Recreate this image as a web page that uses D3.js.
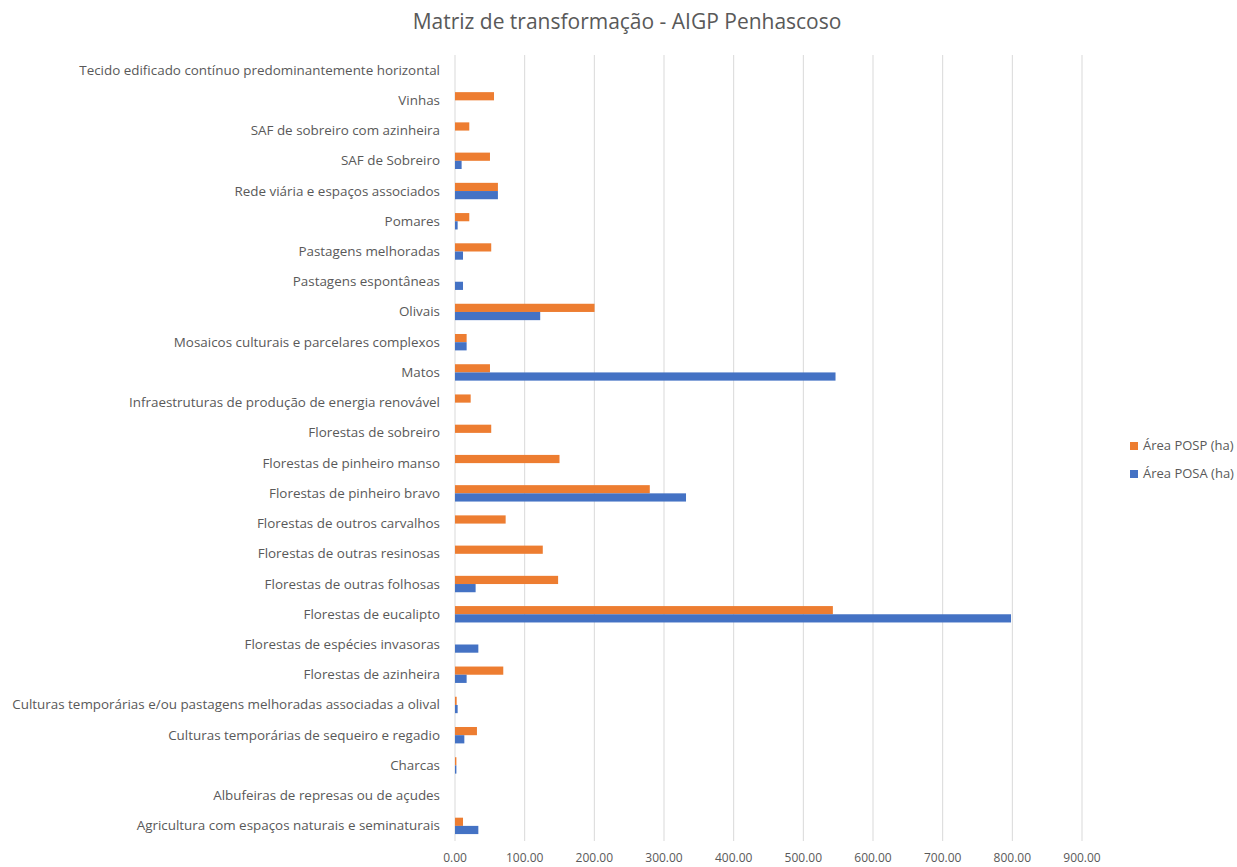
<!DOCTYPE html>
<html><head><meta charset="utf-8">
<script src="https://cdn.jsdelivr.net/npm/d3@7"></script>
<style>body{margin:0;background:#fff;} svg{display:block;font-family:"Open Sans",Lato,sans-serif;}</style>
</head><body>
<svg id="c" width="1237" height="867"></svg>
<script>
const categories = [
  "Agricultura com espaços naturais e seminaturais",
  "Albufeiras de represas ou de açudes",
  "Charcas",
  "Culturas temporárias de sequeiro e regadio",
  "Culturas temporárias e/ou pastagens melhoradas associadas a olival",
  "Florestas de azinheira",
  "Florestas de espécies invasoras",
  "Florestas de eucalipto",
  "Florestas de outras folhosas",
  "Florestas de outras resinosas",
  "Florestas de outros carvalhos",
  "Florestas de pinheiro bravo",
  "Florestas de pinheiro manso",
  "Florestas de sobreiro",
  "Infraestruturas de produção de energia renovável",
  "Matos",
  "Mosaicos culturais e parcelares complexos",
  "Olivais",
  "Pastagens espontâneas",
  "Pastagens melhoradas",
  "Pomares",
  "Rede viária e espaços associados",
  "SAF de Sobreiro",
  "SAF de sobreiro com azinheira",
  "Vinhas",
  "Tecido edificado contínuo predominantemente horizontal"
];
const areaPOSP = [11.5, 0, 2, 31.5, 2.4, 69.3, 0, 542.4, 148, 126, 72.7, 279.6, 150, 52, 22.5, 50.2, 16.7, 200.3, 0, 52, 20.5, 61.6, 50.2, 20.5, 56, 0];
const areaPOSA = [33.5, 0, 2, 13.4, 3.8, 16.7, 33.5, 798.1, 29.6, 0, 0, 331.6, 0, 0, 0, 546.2, 16.7, 122.3, 11.5, 11.5, 3.8, 61.6, 9.5, 0, 0, 0];
const seriesNames = ["Área POSP (ha)", "Área POSA (ha)"];
const seriesColors = ["#ED7D31", "#4472C4"];
const xTicks = [0,100,200,300,400,500,600,700,800,900];
</script>
<script>
(function(){
const svg = d3.select("#c");
const L = 455, R = 1082, T = 55, B = 841;
const x = d3.scaleLinear().domain([0, 900]).range([L, R]);
const y = d3.scaleBand().domain(categories).range([B, T]);
const inner = d3.scaleBand().domain([0,1]).range([y.bandwidth()/2 - 8.2, y.bandwidth()/2 + 8.2]);

svg.append("g").selectAll("line").data(xTicks).join("line")
  .attr("x1", d => x(d)).attr("x2", d => x(d))
  .attr("y1", T).attr("y2", B)
  .attr("stroke", "#d9d9d9").attr("stroke-width", 1);

svg.append("g").selectAll("text").data(xTicks).join("text")
  .attr("x", d => x(d)).attr("y", 862)
  .attr("text-anchor", "middle").attr("fill", "#595959").attr("font-size", 12)
  .text(d => d3.format(".2f")(d));

[areaPOSP, areaPOSA].forEach((vals, si) => {
  svg.append("g").selectAll("rect").data(categories.map((c, i) => ({c, v: vals[i]})))
    .join("rect")
    .attr("x", x(0))
    .attr("y", d => y(d.c) + inner(si))
    .attr("width", d => x(d.v) - x(0))
    .attr("height", inner.bandwidth())
    .attr("fill", seriesColors[si]);
});

const labels = svg.append("g").selectAll("text").data(categories).join("text")
  .attr("x", 440).attr("y", d => y(d) + y.bandwidth()/2 + 4.5)
  .attr("text-anchor", "end").attr("fill", "#595959").attr("font-size", 12.5)
  .text(d => d);
const longest = labels.filter(d => d.startsWith("Culturas temporárias e/ou")).node();
const w = longest.getComputedTextLength();
const fs = Math.max(11, Math.min(14, 12.5 * 428 / w));
labels.attr("font-size", fs);

const title = svg.append("text").attr("x", 627).attr("y", 29).attr("text-anchor", "middle")
  .attr("fill", "#595959").attr("font-size", 19).text("Matriz de transformação - AIGP Penhascoso");
const tw = title.node().getComputedTextLength();
title.attr("font-size", Math.max(17, Math.min(22, 19 * 429 / tw)));

const lg = svg.append("g");
seriesNames.forEach((n, i) => {
  lg.append("rect").attr("x", 1130).attr("y", 442 + i*28).attr("width", 8).attr("height", 8).attr("fill", seriesColors[i]);
  lg.append("text").attr("x", 1143).attr("y", 450 + i*28).attr("fill", "#595959").attr("font-size", 13).text(n);
});
})();
</script>
</body></html>
